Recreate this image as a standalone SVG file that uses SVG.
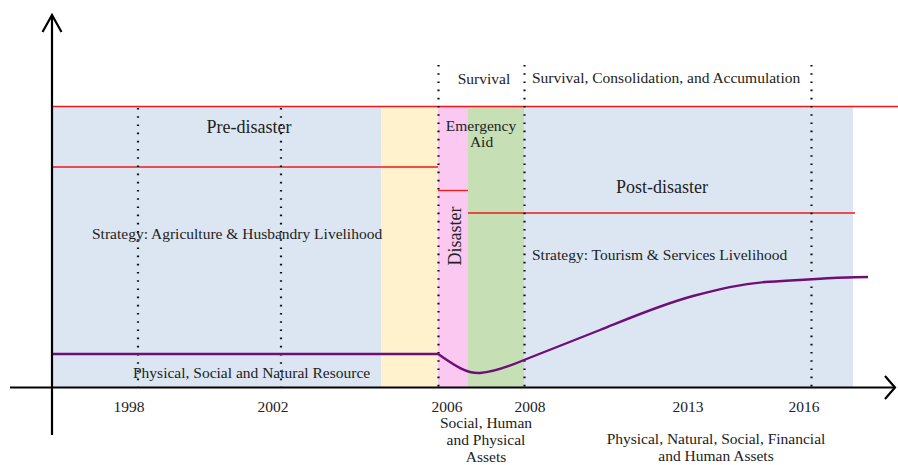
<svg xmlns="http://www.w3.org/2000/svg" width="898" height="465" viewBox="0 0 898 465">
<style>
text{font-family:"Liberation Serif","Times New Roman",serif;fill:#222;font-size:15.5px}
.h{font-size:18px}
.c{text-anchor:middle}
.red{stroke:#f01818;stroke-width:1.3;fill:none}
.dot{stroke:#111;stroke-width:2.2;stroke-dasharray:1.6 6.6;fill:none}
.ax{stroke:#000;stroke-width:2.2;fill:none}
</style>
<g id="bands">
<rect x="52" y="106" width="329" height="281" fill="#dce6f2"/>
<rect x="381" y="106" width="57" height="281" fill="#fff2cc"/>
<rect x="438" y="106" width="30" height="281" fill="#fac8f0"/>
<rect x="468" y="106" width="56" height="281" fill="#c6dfb4"/>
<rect x="524" y="106" width="329" height="281" fill="#dce6f2"/>
</g>
<g id="dividers">
<line class="red" x1="52" y1="106.5" x2="898" y2="106.5"/>
<line class="red" x1="52" y1="167" x2="438" y2="167"/>
<line class="red" x1="438" y1="190.5" x2="468" y2="190.5"/>
<line class="red" x1="468" y1="213" x2="855" y2="213"/>
<line class="dot" x1="138" y1="108" x2="138" y2="387"/>
<line class="dot" x1="281" y1="108" x2="281" y2="387"/>
<line class="dot" x1="438.5" y1="65" x2="438.5" y2="387"/>
<line class="dot" x1="524.5" y1="65" x2="524.5" y2="387"/>
<line class="dot" x1="811.5" y1="65" x2="811.5" y2="387"/>
</g>
<g id="curve">
<path d="M52,354 L438,354 C450,362 465,374 480,373 S510,366 524,360 L600,330 C630,318 660,305 693,296 C720,289 740,284 765,282 C800,280 840,277 868,277" fill="none" stroke="#6e0f78" stroke-width="2.4"/>
</g>
<g id="axes">
<line class="ax" x1="52" y1="15" x2="52" y2="435"/>
<polyline class="ax" points="42.5,32 52,15 61.5,32"/>
<line class="ax" x1="10" y1="387.5" x2="894" y2="387.5"/>
<polyline class="ax" points="885,376 895,387.5 885,399"/>
</g>
<g id="labels">
<text class="h c" x="249" y="133">Pre-disaster</text>
<text x="92" y="239">Strategy: Agriculture &amp; Husbandry Livelihood</text>
<text x="133" y="378">Physical, Social and Natural Resource</text>
<text class="c" x="484" y="84">Survival</text>
<text x="532" y="83">Survival, Consolidation, and Accumulation</text>
<text class="c" x="481" y="131">Emergency</text>
<text class="c" x="481.5" y="147">Aid</text>
<text class="h c" transform="translate(461,236) rotate(-90)">Disaster</text>
<text class="h c" x="662" y="193">Post-disaster</text>
<text x="532" y="260">Strategy: Tourism &amp; Services Livelihood</text>
<text class="c" x="129" y="412">1998</text>
<text class="c" x="273" y="412">2002</text>
<text class="c" x="447" y="412">2006</text>
<text class="c" x="530" y="412">2008</text>
<text class="c" x="688" y="412">2013</text>
<text class="c" x="804" y="412">2016</text>
<text class="c" x="486" y="428">Social, Human</text>
<text class="c" x="486" y="445">and Physical</text>
<text class="c" x="486" y="462">Assets</text>
<text class="c" x="716" y="444">Physical, Natural, Social, Financial</text>
<text class="c" x="716" y="461">and Human Assets</text>
</g>
</svg>
